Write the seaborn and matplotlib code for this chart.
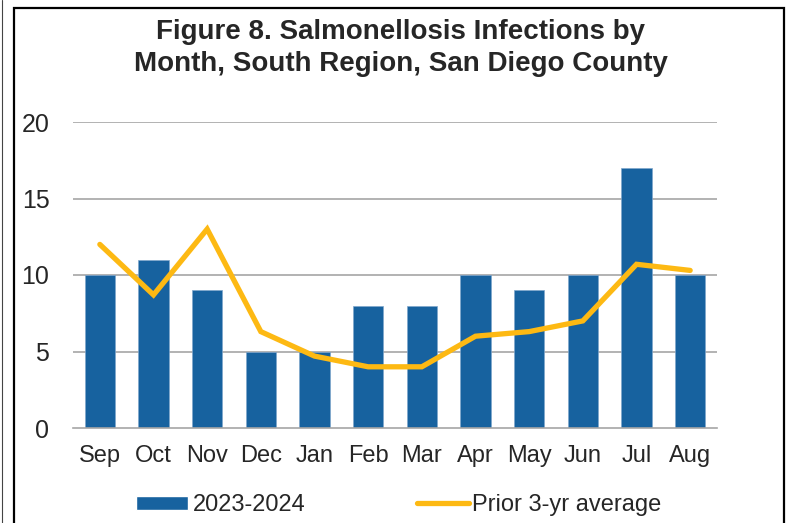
import matplotlib

matplotlib.use("Agg")
import matplotlib.pyplot as plt
import seaborn as sns
from matplotlib.patches import Rectangle, Patch
from matplotlib.lines import Line2D

# Chart data
months = ["Sep", "Oct", "Nov", "Dec", "Jan", "Feb", "Mar", "Apr", "May", "Jun", "Jul", "Aug"]
cases_2023_2024 = [10, 11, 9, 5, 5, 8, 8, 10, 9, 10, 17, 10]
prior_3yr_avg = [12.0, 8.7, 13.0, 6.3, 4.7, 4.0, 4.0, 6.0, 6.3, 7.0, 10.7, 10.3]
y_ticks = [0, 5, 10, 15, 20]

BAR_COLOR = "#17629F"
LINE_COLOR = "#FDB913"
GRID_COLOR = "#A6A6A6"

sns.set_style("white")
plt.rcParams["font.family"] = ["Liberation Sans", "DejaVu Sans"]

W, H = 788, 523
fig = plt.figure(figsize=(W / 100, H / 100), dpi=100)

# outer frame (cut off at the bottom in the original) and the edge of a neighbour frame
fig.patches.append(
    Rectangle((14 / W, -0.05), (784 - 14) / W, 1.05 - 8 / H, transform=fig.transFigure,
              fill=False, edgecolor="black", linewidth=1.6)
)
fig.lines.append(Line2D([2 / W, 2 / W], [0, 1], transform=fig.transFigure,
                        color="#444444", linewidth=0.8))

ax = fig.add_axes([73 / W, 1 - 428 / H, (717 - 73) / W, (428 - 122) / H])

sns.barplot(x=months, y=cases_2023_2024, color=BAR_COLOR, width=0.56,
            edgecolor="#7FA6CC", linewidth=0.5, saturation=1, ax=ax, zorder=2)
sns.lineplot(x=months, y=prior_3yr_avg, sort=False, color=LINE_COLOR, linewidth=3.8,
             ax=ax, zorder=3)
ax.lines[-1].set_solid_capstyle("round")
ax.lines[-1].set_solid_joinstyle("miter")

ax.set_ylim(0, 20)
ax.set_xlim(-0.5, len(months) - 0.5)
ax.set_yticks(y_ticks)
ax.set_yticklabels([str(t) for t in y_ticks], fontsize=18)
ax.set_xlabel("")
ax.set_ylabel("")
for t in y_ticks[1:]:
    ax.axhline(t, color=GRID_COLOR, linewidth=1.2, zorder=1)

ax.set_xticks(range(len(months)))
ax.set_xticklabels(months, fontsize=17)
ax.set_xticks([i - 0.5 for i in range(len(months) + 1)], minor=True)
ax.tick_params(axis="x", which="major", length=0, pad=12)
ax.tick_params(axis="x", which="minor", length=6, width=1.2, color=GRID_COLOR, direction="out")
ax.tick_params(axis="y", length=0, pad=17)
for side in ["top", "right", "left"]:
    ax.spines[side].set_visible(False)
ax.spines["bottom"].set_color(GRID_COLOR)
ax.spines["bottom"].set_linewidth(1.2)

fig.text(400 / W, 1 - 32 / H, "Figure 8. Salmonellosis Infections by", ha="center",
         va="center", fontsize=20, fontweight="bold")
fig.text(401 / W, 1 - 64 / H, "Month, South Region, San Diego County", ha="center",
         va="center", fontsize=20, fontweight="bold")

# legend, two parts placed separately
fig.legend(handles=[Patch(facecolor=BAR_COLOR, label="2023-2024")],
           loc="center left", bbox_to_anchor=(136 / W, 1 - 505 / H),
           frameon=False, fontsize=17, handlelength=2.2, handleheight=0.55,
           handletextpad=0.22, borderpad=0, borderaxespad=0)
fig.legend(handles=[Line2D([], [], color=LINE_COLOR, linewidth=3.8, solid_capstyle="round",
                           label="Prior 3-yr average")],
           loc="center left", bbox_to_anchor=(417 / W, 1 - 505 / H),
           frameon=False, fontsize=17, handlelength=2.2,
           handletextpad=0.15, borderpad=0, borderaxespad=0)

fig.savefig("out.png", dpi=100)
